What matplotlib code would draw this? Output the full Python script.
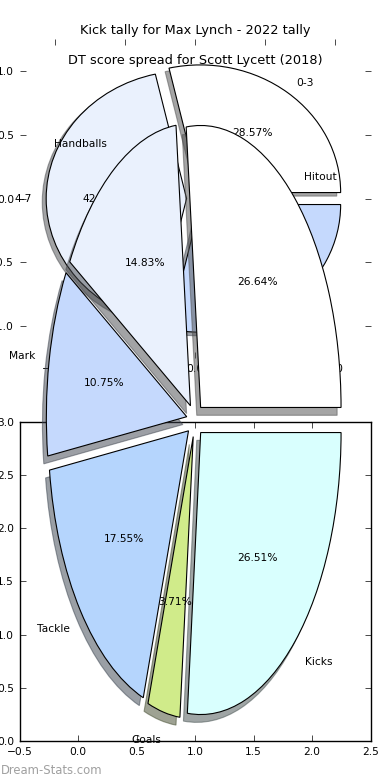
import matplotlib
matplotlib.use('Agg')
import matplotlib.pyplot as plt

# ---- data ----
top_title = 'Kick tally for Max Lynch - 2022 tally'
top_labels = ['0-3', '4-7', '8-11']
top_values = [2, 3, 2]
top_colors = ['#ffffff', '#eaf1fd', '#c5d9fd']

big_title = 'DT score spread for Scott Lycett (2018)'
big_labels = ['Hitout', 'Handballs', 'Mark', 'Tackle', 'Goals', 'Kicks']
big_values = [26.64, 14.83, 10.75, 17.55, 3.71, 26.51]
big_colors = ['#ffffff', '#eaf1fd', '#c5d9fd', '#b5d5fd', '#d0eb8a', '#d9fffe']

pie_ticks = [-1.0, -0.5, 0.0, 0.5, 1.0]
grid_xticks = [-0.5, 0.0, 0.5, 1.0, 1.5, 2.0, 2.5]
grid_yticks = [0.0, 0.5, 1.0, 1.5, 2.0, 2.5, 3.0]

FS = 7.7
TFS = 9.3
EXPL = 0.06

fig = plt.figure(figsize=(3.9, 7.8), dpi=100)
fig.patch.set_facecolor('white')

wprops = {'edgecolor': 'black', 'linewidth': 0.8}

# upper pie axes (drawn first)
axB = fig.add_axes([0.05, 0.54091, 0.9, 0.40909])
axB.pie(top_values, labels=top_labels, colors=top_colors,
        explode=[EXPL] * len(top_values), shadow=True, autopct='%.2f%%',
        startangle=0, textprops={'fontsize': FS}, wedgeprops=wprops)
axB.set_aspect('auto')
axB.set_frame_on(False)
axB.set_xlim(-1.25, 1.25)
axB.set_ylim(-1.25, 1.25)
axB.set_xticks(pie_ticks)
axB.set_yticks(pie_ticks)
axB.tick_params(direction='in', top=True, right=True, length=4, width=0.5,
                labelsize=FS, pad=4)
axB.set_title(top_title, fontsize=TFS, pad=3.4)

# lower framed axes
axC = fig.add_axes([0.05, 0.05, 0.9, 0.40909])
axC.set_xlim(-0.5, 2.5)
axC.set_ylim(0, 3)
axC.set_xticks(grid_xticks)
axC.set_yticks(grid_yticks)
axC.tick_params(direction='in', top=True, right=True, length=4, width=0.5,
                labelsize=FS, pad=4)
for s in axC.spines.values():
    s.set_linewidth(1.0)

# big pie axes (drawn last, on top)
axP = fig.add_axes([0.05, 0.0096, 0.9, 0.9038])
axP.pie(big_values, labels=big_labels, colors=big_colors,
        explode=[EXPL] * len(big_values), shadow=True, autopct='%.2f%%',
        startangle=0, textprops={'fontsize': FS}, wedgeprops=wprops)
axP.set_aspect('auto')
axP.set_frame_on(False)
axP.set_xlim(-1.25, 1.25)
axP.set_ylim(-1.25, 1.25)
axP.set_xticks([])
axP.set_yticks([])
axP.set_title(big_title, fontsize=TFS, pad=2.5)

fig.text(0.003, 0.0128, 'Dream-Stats.com', fontsize=8.4, color='#a0a0a0',
         ha='left', va='center')

fig.savefig('out.png', dpi=100)
